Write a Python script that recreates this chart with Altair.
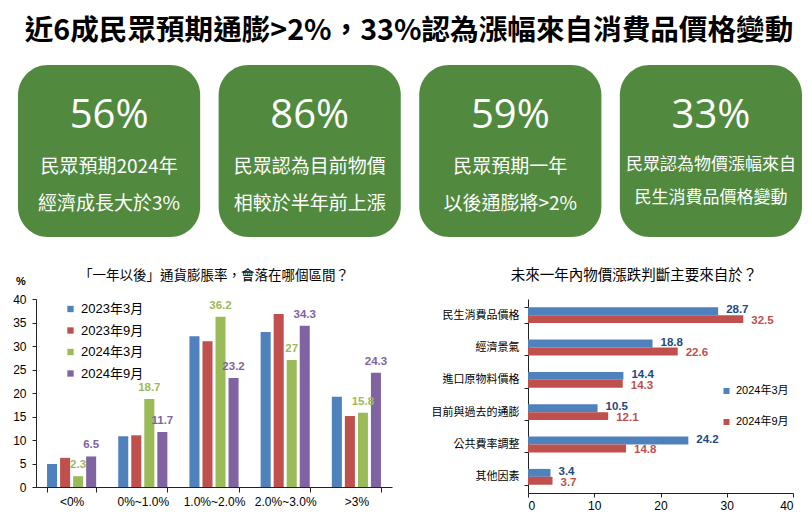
import altair as alt
import pandas as pd

# ---------------- data ----------------
TITLE = "近6成民眾預期通膨>2%，33%認為漲幅來自消費品價格變動"
card_ids = [0, 1, 2, 3]
card_pcts = ["56%", "86%", "59%", "33%"]
card_line1 = ["民眾預期2024年", "民眾認為目前物價", "民眾預期一年", "民眾認為物價漲幅來自"]
card_line2 = ["經濟成長大於3%", "相較於半年前上漲", "以後通膨將>2%", "民生消費品價格變動"]

left_title = "「一年以後」通貨膨脹率，會落在哪個區間？"
ranges = ["<0%", "0%~1.0%", "1.0%~2.0%", "2.0%~3.0%", ">3%"]
waves = ["2023年3月", "2023年9月", "2024年3月", "2024年9月"]
v_2023_03 = [4.9, 10.8, 32.1, 33.0, 19.2]
v_2023_09 = [6.2, 11.0, 31.0, 36.8, 15.1]
v_2024_03 = [2.3, 18.7, 36.2, 27, 15.8]
v_2024_09 = [6.5, 11.7, 23.2, 34.3, 24.3]
labeled_waves = ["2024年3月", "2024年9月"]

right_title = "未來一年內物價漲跌判斷主要來自於？"
sources = ["民生消費品價格", "經濟景氣", "進口原物料價格", "目前與過去的通膨", "公共費率調整", "其他因素"]
src_waves = ["2024年3月", "2024年9月"]
s_2024_03 = [28.7, 18.8, 14.4, 10.5, 24.2, 3.4]
s_2024_09 = [32.5, 22.6, 14.3, 12.1, 14.8, 3.7]

# ---------------- styles ----------------
GREEN_CARD = "#518A3E"
BLUE, RED, GREEN, PURPLE = "#4F81BD", "#C0504D", "#9BBB59", "#8064A2"
DARK_BLUE = "#1F497D"
CJK = "Noto Sans CJK TC"
LAT = "Liberation Sans, Noto Sans CJK TC"

# ---------------- header ----------------
cards = pd.DataFrame({"card": card_ids, "pct": card_pcts, "l1": card_line1, "l2": card_line2})
X_card = alt.X("card:O", axis=None,
               scale=alt.Scale(range=[-18, 766], paddingInner=0.092, paddingOuter=0))
cbase = alt.Chart(cards)
rects = cbase.mark_rect(cornerRadius=30, color=GREEN_CARD).encode(
    x=X_card, y=alt.value(57), y2=alt.value(229))
pct_txt = cbase.mark_text(color="white", fontSize=40, font="Open Sans", baseline="middle").encode(
    x=X_card, y=alt.value(108), text="pct:N")
wide = cbase.transform_filter("datum.card < 3")
narrow = cbase.transform_filter("datum.card == 3")
l1_txt = wide.mark_text(color="white", fontSize=19, font=CJK, baseline="middle").encode(
    x=X_card, y=alt.value(159), text="l1:N")
l2_txt = wide.mark_text(color="white", fontSize=19, font=CJK, baseline="middle").encode(
    x=X_card, y=alt.value(196), text="l2:N")
l1n_txt = narrow.mark_text(color="white", fontSize=17, font=CJK, baseline="middle").encode(
    x=X_card, y=alt.value(157), text="l1:N")
l2n_txt = narrow.mark_text(color="white", fontSize=17, font=CJK, baseline="middle").encode(
    x=X_card, y=alt.value(190), text="l2:N")
title_txt = alt.Chart(pd.DataFrame({"t": [TITLE]})).mark_text(
    fontSize=28.6, fontWeight="bold", font=CJK, color="black", baseline="middle").encode(
    x=alt.value(373), y=alt.value(23), text="t:N")
header = alt.layer(title_txt, rects, pct_txt, l1_txt, l2_txt, l1n_txt, l2n_txt).properties(
    width=760, height=237)

# ---------------- left chart ----------------
rows = []
for w, vals in zip(waves, [v_2023_03, v_2023_09, v_2024_03, v_2024_09]):
    for r, v in zip(ranges, vals):
        rows.append({"range": r, "wave": w, "value": v,
                     "label": (f"{v:g}" if w in labeled_waves else "")})
df_l = pd.DataFrame(rows)

xl = alt.X("range:N", scale=alt.Scale(domain=ranges, paddingInner=0.31, paddingOuter=0.155),
           axis=alt.Axis(title=None, labelAngle=0, tickBand="extent", tickSize=5,
                         labelPadding=4, labelFontSize=12, domainColor="#222", tickColor="#222"))
xol = alt.XOffset("wave:N", scale=alt.Scale(domain=waves, paddingInner=0.23, paddingOuter=0))
yl = alt.Y("value:Q", scale=alt.Scale(domain=[0, 40]),
           axis=alt.Axis(title=None, values=list(range(0, 41, 5)), grid=False, tickSize=4,
                         labelPadding=6, labelFontSize=12, domainColor="#222", tickColor="#222"))
cscale_l = alt.Scale(domain=waves, range=[BLUE, RED, GREEN, PURPLE])

bars_l = alt.Chart(df_l).mark_bar().encode(
    x=xl, xOffset=xol, y=yl,
    color=alt.Color("wave:N", scale=cscale_l,
                    legend=alt.Legend(title=None, orient="none", legendX=28, legendY=3.5,
                                      symbolType="square", symbolSize=40, labelFontSize=13,
                                      rowPadding=7.5, labelOffset=4, padding=0, labelFont=LAT,
                                      labelColor="black")))
text_l = alt.Chart(df_l).mark_text(dy=-11, fontWeight="bold", fontSize=11.5, baseline="middle",
                                   font=LAT).encode(
    x=xl, xOffset=xol, y=yl, text="label:N",
    color=alt.Color("wave:N", scale=cscale_l, legend=None))
pct_lbl = alt.Chart(pd.DataFrame({"t": ["%"]})).mark_text(
    fontWeight="bold", fontSize=11, font=LAT, color="black", baseline="middle").encode(
    x=alt.value(-15), y=alt.value(-17), text="t:N")
ltitle = alt.Chart(pd.DataFrame({"t": [left_title]})).mark_text(
    fontSize=13.5, font=CJK, color="black", baseline="middle").encode(
    x=alt.value(178), y=alt.value(-23), text="t:N")
left = alt.layer(bars_l, text_l, pct_lbl, ltitle).resolve_scale(color="independent").properties(
    width=356, height=188)

# ---------------- right chart ----------------
rows = []
for w, vals in zip(src_waves, [s_2024_03, s_2024_09]):
    for s, v in zip(sources, vals):
        rows.append({"source": s, "wave": w, "value": v, "label": f"{v:g}"})
df_r = pd.DataFrame(rows)

yr = alt.Y("source:N", scale=alt.Scale(domain=sources, paddingInner=0.51, paddingOuter=0.255),
           axis=alt.Axis(title=None, tickBand="extent", tickSize=4, labelPadding=5,
                         labelFontSize=11, domainColor="#222", tickColor="#222", labelFont=LAT))
yor = alt.YOffset("wave:N", scale=alt.Scale(domain=src_waves, paddingInner=0, paddingOuter=0))
xr = alt.X("value:Q", scale=alt.Scale(domain=[0, 40]),
           axis=alt.Axis(title=None, values=[0, 10, 20, 30, 40], grid=False, tickSize=4,
                         labelPadding=3, labelFontSize=12, domainColor="#222", tickColor="#222"))
lbl_scale_r = alt.Scale(domain=src_waves, range=[DARK_BLUE, RED])
bars_r = alt.Chart(df_r).mark_bar().encode(
    y=yr, yOffset=yor, x=xr,
    color=alt.Color("wave:N", scale=alt.Scale(domain=src_waves, range=[BLUE, RED]),
                    legend=alt.Legend(title=None, orient="none", legendX=193, legendY=86.5,
                                      symbolType="square", symbolSize=36, labelFontSize=11,
                                      rowPadding=19, labelOffset=4, padding=0, labelFont=LAT,
                                      labelColor="black")))
text_r1 = alt.Chart(df_r).transform_filter(alt.datum.wave == src_waves[0]).mark_text(
    align="left", dx=8, dy=-1, fontWeight="bold", fontSize=11.5, baseline="middle", font=LAT).encode(
    y=yr, yOffset=yor, x=xr, text="label:N",
    color=alt.Color("wave:N", scale=lbl_scale_r, legend=None))
text_r2 = alt.Chart(df_r).transform_filter(alt.datum.wave == src_waves[1]).mark_text(
    align="left", dx=8, dy=2, fontWeight="bold", fontSize=11.5, baseline="middle", font=LAT).encode(
    y=yr, yOffset=yor, x=xr, text="label:N",
    color=alt.Color("wave:N", scale=lbl_scale_r, legend=None))
rtitle = alt.Chart(pd.DataFrame({"t": [right_title]})).mark_text(
    fontSize=14.5, font=CJK, color="black", baseline="middle").encode(
    x=alt.value(106), y=alt.value(-23), text="t:N")
right = alt.layer(bars_r, text_r1, text_r2, rtitle).resolve_scale(color="independent").properties(
    width=265, height=194)

bottom = alt.hconcat(left, right, spacing=39)

chart = alt.vconcat(header, bottom, spacing=23).properties(
    padding={"left": 4, "top": 0, "right": 0, "bottom": 0}
).configure(font=LAT).configure_view(stroke=None).configure_axis(
    labelColor="black", labelFont=LAT)

chart.save("out.html", embed_options={"renderer": "svg", "actions": False})
